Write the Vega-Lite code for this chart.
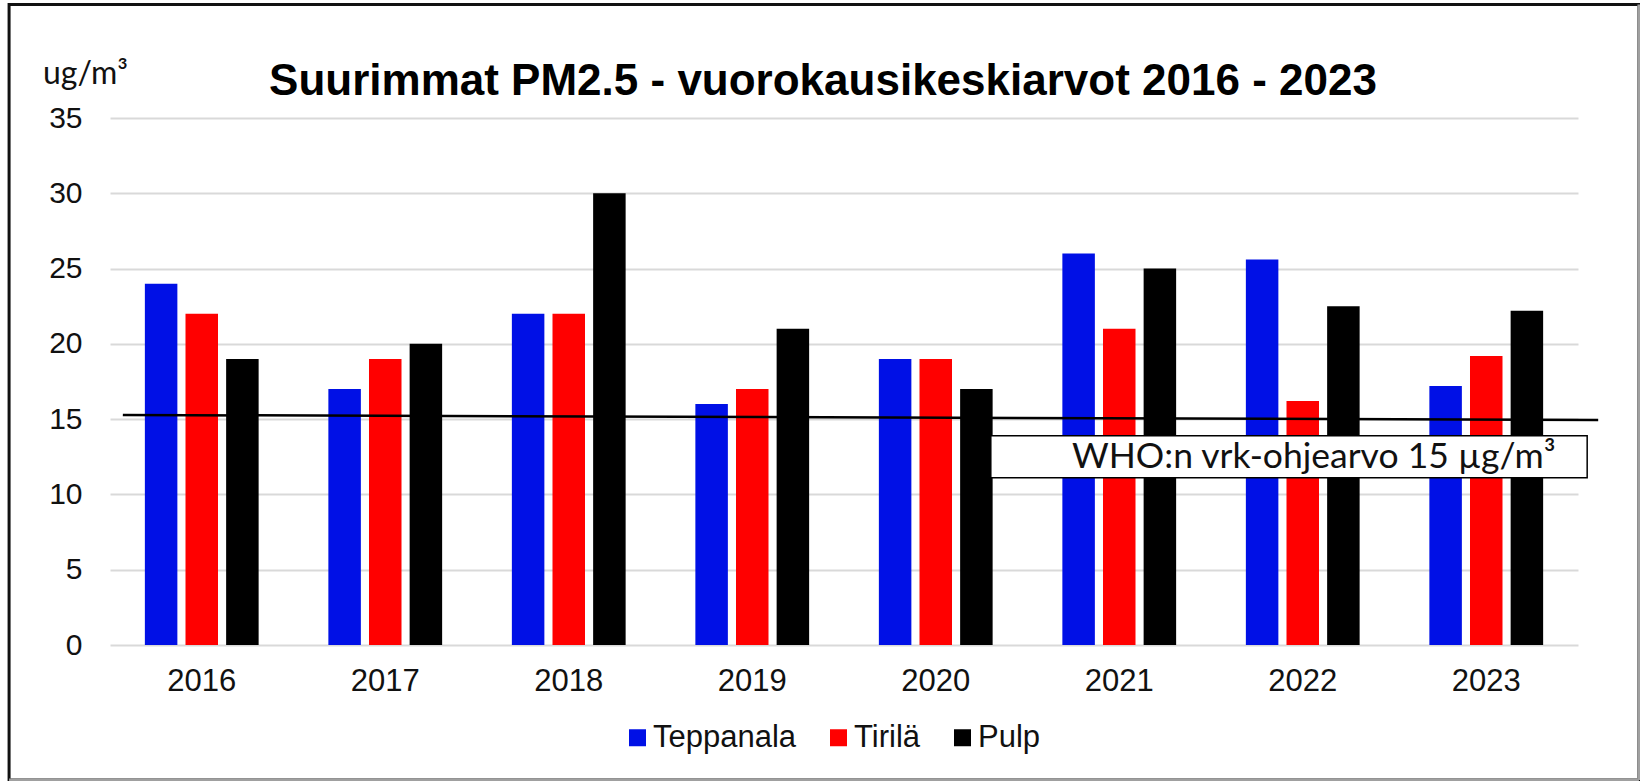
{
  "$schema": "https://vega.github.io/schema/vega-lite/v6.json",
  "width": 1468,
  "height": 527,
  "autosize": {"type": "none"},
  "padding": {"left": 110, "top": 118, "right": 62, "bottom": 136},
  "background": "white",
  "title": {
    "text": "Suurimmat PM2.5 - vuorokausikeskiarvot 2016 - 2023",
    "font": "Liberation Sans",
    "fontSize": 44,
    "fontWeight": "bold",
    "color": "#000000",
    "anchor": "middle",
    "frame": "group",
    "dx": -21,
    "dy": 158,
    "offset": 22,
    "baseline": "alphabetic"
  },
  "config": {
    "view": {"stroke": null},
    "font": "Liberation Sans",
    "axisX": {
      "labelFont": "Liberation Sans",
      "labelFontSize": 31,
      "labelColor": "#111111",
      "labelPadding": 21,
      "labelAngle": 0,
      "ticks": false,
      "domain": false,
      "grid": false,
      "title": null
    },
    "axisY": {
      "labelFont": "Liberation Sans",
      "labelFontSize": 30,
      "labelColor": "#111111",
      "labelPadding": 28,
      "ticks": false,
      "domain": false,
      "grid": true,
      "gridColor": "#d9d9d9",
      "gridWidth": 2,
      "titleAngle": 0,
      "titleX": -25,
      "titleY": -35,
      "titleAlign": "center",
      "titleBaseline": "alphabetic",
      "titleFont": "Lato",
      "titleFontSize": 32,
      "titleFontWeight": "normal",
      "titleColor": "#111111"
    },
    "legend": {
      "orient": "none",
      "legendX": 512,
      "legendY": 604,
      "direction": "horizontal",
      "symbolType": "square",
      "symbolSize": 289,
      "symbolStrokeWidth": 0,
      "labelFont": "Liberation Sans",
      "labelFontSize": 31,
      "labelColor": "#111111",
      "labelOffset": 0,
      "columnPadding": 26,
      "title": null
    }
  },
  "datasets": {
    "pm": [
      {"year": "2016", "site": "Teppanala", "value": 24.0},
      {"year": "2016", "site": "Tirilä", "value": 22.0},
      {"year": "2016", "site": "Pulp", "value": 19.0},
      {"year": "2017", "site": "Teppanala", "value": 17.0},
      {"year": "2017", "site": "Tirilä", "value": 19.0},
      {"year": "2017", "site": "Pulp", "value": 20.0},
      {"year": "2018", "site": "Teppanala", "value": 22.0},
      {"year": "2018", "site": "Tirilä", "value": 22.0},
      {"year": "2018", "site": "Pulp", "value": 30.0},
      {"year": "2019", "site": "Teppanala", "value": 16.0},
      {"year": "2019", "site": "Tirilä", "value": 17.0},
      {"year": "2019", "site": "Pulp", "value": 21.0},
      {"year": "2020", "site": "Teppanala", "value": 19.0},
      {"year": "2020", "site": "Tirilä", "value": 19.0},
      {"year": "2020", "site": "Pulp", "value": 17.0},
      {"year": "2021", "site": "Teppanala", "value": 26.0},
      {"year": "2021", "site": "Tirilä", "value": 21.0},
      {"year": "2021", "site": "Pulp", "value": 25.0},
      {"year": "2022", "site": "Teppanala", "value": 25.6},
      {"year": "2022", "site": "Tirilä", "value": 16.2},
      {"year": "2022", "site": "Pulp", "value": 22.5},
      {"year": "2023", "site": "Teppanala", "value": 17.2},
      {"year": "2023", "site": "Tirilä", "value": 19.2},
      {"year": "2023", "site": "Pulp", "value": 22.2}
    ],
    "whoLine": [
      {"x": 0.07, "x_end": 8.11, "value": 15.28, "value_end": 14.95}
    ],
    "whoBox": [
      {"x": 4.80, "x_end": 8.05, "value": 13.89, "value_end": 11.1, "label": "WHO:n vrk-ohjearvo 15 µg/m³", "label_x": 6.56, "label_y": 12.5}
    ],
    "frame": [
      {"x": -0.55, "x_end": 8.332, "value": 42.54, "value_end": -8.97}
    ],
    "frameShade": [
      {"x": 8.332, "x_end": 8.332, "value": 42.54, "value_end": -8.97},
      {"x": -0.55, "x_end": 8.332, "value": -8.97, "value_end": -8.97}
    ]
  },
  "layer": [
    {
      "data": {"name": "pm"},
      "mark": {"type": "bar"},
      "encoding": {
        "x": {
          "field": "year",
          "type": "nominal",
          "scale": {"paddingInner": 0.38, "paddingOuter": 0.19}
        },
        "xOffset": {
          "field": "site",
          "type": "nominal",
          "sort": ["Teppanala", "Tirilä", "Pulp"],
          "scale": {"paddingInner": 0.2, "paddingOuter": 0}
        },
        "y": {
          "field": "value",
          "type": "quantitative",
          "scale": {"domain": [0, 35]},
          "title": "ug/m³",
          "axis": {"values": [0, 5, 10, 15, 20, 25, 30, 35]}
        },
        "color": {
          "field": "site",
          "type": "nominal",
          "sort": ["Teppanala", "Tirilä", "Pulp"],
          "scale": {"domain": ["Teppanala", "Tirilä", "Pulp"], "range": ["#0010E6", "#FF0000", "#000000"]}
        }
      }
    },
    {
      "data": {"name": "frame"},
      "mark": {"type": "rect", "fill": null, "fillOpacity": 0, "stroke": "#111111", "strokeWidth": 3},
      "encoding": {
        "x": {"field": "x", "type": "quantitative", "scale": {"domain": [0, 8]}, "axis": null},
        "x2": {"field": "x_end"},
        "y": {"field": "value", "type": "quantitative", "title": "ug/m³"},
        "y2": {"field": "value_end"}
      }
    },
    {
      "data": {"name": "frameShade"},
      "mark": {"type": "rule", "color": "#a0a0a0", "strokeWidth": 3},
      "encoding": {
        "x": {"field": "x", "type": "quantitative", "scale": {"domain": [0, 8]}, "axis": null},
        "x2": {"field": "x_end"},
        "y": {"field": "value", "type": "quantitative", "title": "ug/m³"},
        "y2": {"field": "value_end"}
      }
    },
    {
      "data": {"name": "whoLine"},
      "mark": {"type": "rule", "color": "#000000", "strokeWidth": 2.5},
      "encoding": {
        "x": {"field": "x", "type": "quantitative", "scale": {"domain": [0, 8]}, "axis": null},
        "x2": {"field": "x_end"},
        "y": {"field": "value", "type": "quantitative", "title": "ug/m³"},
        "y2": {"field": "value_end"}
      }
    },
    {
      "data": {"name": "whoBox"},
      "mark": {"type": "rect", "fill": "#ffffff", "stroke": "#000000", "strokeWidth": 1.5},
      "encoding": {
        "x": {"field": "x", "type": "quantitative", "scale": {"domain": [0, 8]}, "axis": null},
        "x2": {"field": "x_end"},
        "y": {"field": "value", "type": "quantitative", "title": "ug/m³"},
        "y2": {"field": "value_end"}
      }
    },
    {
      "data": {"name": "whoBox"},
      "mark": {"type": "text", "font": "Lato", "fontSize": 35.5, "align": "center", "baseline": "middle", "color": "#111111"},
      "encoding": {
        "x": {"field": "label_x", "type": "quantitative", "scale": {"domain": [0, 8]}, "axis": null},
        "y": {"field": "label_y", "type": "quantitative", "title": "ug/m³"},
        "text": {"field": "label"}
      }
    }
  ],
  "resolve": {"scale": {"x": "independent"}}
}
